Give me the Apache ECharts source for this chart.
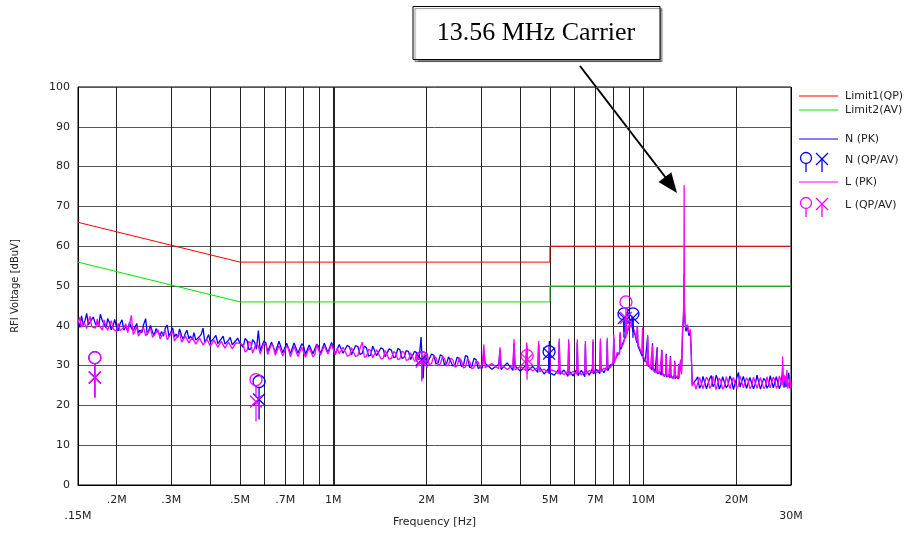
<!DOCTYPE html>
<html><head><meta charset="utf-8">
<script src="https://cdn.jsdelivr.net/npm/echarts@6/dist/echarts.min.js"></script>
<style>html,body{margin:0;padding:0;background:#fff}#chart{width:905px;height:533px}</style>
</head><body><div id="chart"></div>
<script>
// Frequency samples (MHz)
const freqMHz = [
  0.150,0.152,0.154,0.156,0.158,0.160,0.162,0.164,0.166,0.168,0.171,0.173,0.175,0.177,0.180,0.182,0.185,0.187,0.190,0.192,0.195,0.197,0.200,0.202,0.205,0.208,0.211,0.214,0.217,0.220,0.223,0.226,0.229,0.232,0.235,0.238,0.241,0.244,0.248,0.251,0.254,0.257,0.261,0.264,0.268,0.272,0.276,0.279,0.283,0.287,0.291,0.295,0.299,0.303,0.307,0.311,0.315,0.319,0.324,0.328,0.333,0.337,0.342,0.346,0.351,0.355,0.360,0.365,0.370,0.375,0.380,0.385,0.391,0.396,0.401,0.406,0.412,0.418,0.424,0.429,0.435,0.441,0.447,0.453,0.459,0.465,0.472,0.478,0.485,0.491,0.498,
  0.512,0.519,0.527,0.534,0.542,0.549,0.557,0.565,0.573,0.581,0.589,0.597,0.606,0.614,0.623,0.632,0.641,0.650,0.659,0.668,0.678,0.687,0.697,0.707,0.717,0.727,0.737,0.747,0.758,0.769,0.780,0.791,0.802,0.813,0.825,0.836,0.848,0.860,0.872,0.884,0.897,0.909,0.922,0.935,0.948,0.961,0.975,0.987,1.000,
  1.015,1.03,1.045,1.06,1.075,1.09,1.11,1.13,1.145,1.16,1.18,1.20,1.22,1.24,1.26,1.28,1.30,1.32,1.34,1.36,1.38,1.40,1.425,1.45,1.47,1.49,1.515,1.54,1.565,1.59,1.615,1.64,1.665,1.69,1.72,1.75,1.775,1.80,1.83,1.86,1.89,1.92,1.935,1.95,1.965,1.98,
  2.01,2.04,2.075,2.11,2.145,2.18,2.215,2.25,2.285,2.32,2.355,2.39,2.43,2.47,2.51,2.55,2.59,2.63,2.67,2.71,2.755,2.80,2.845,2.89,2.935,2.98,
  3.03,3.06,3.09,3.25, 3.42,3.45,3.48,3.64, 3.80,3.83,3.86,4.02, 4.18,4.21,4.24,4.40, 4.57,4.60,4.63,4.79, 4.95,4.98,5.01,5.17, 5.33,5.36,5.39,5.55, 5.72,5.75,5.78,5.94, 6.10,6.13,6.16,6.32, 6.48,6.51,6.54,6.70, 6.86,6.89,6.92,7.08, 7.25,7.28,7.31,7.47, 7.63,7.66,7.69,7.85,
  8.00,8.04,8.08,8.24, 8.39,8.43,8.47,8.63, 8.77,8.81,8.85,9.00, 9.15,9.19,9.23,9.40, 9.54,9.58,9.62,9.78, 9.92,9.96,10.00,10.16, 10.30,10.34,10.38,10.54, 10.68,10.72,10.76,10.92, 11.06,11.10,11.14,11.30, 11.45,11.49,11.53,11.70, 11.83,11.87,11.91,12.08, 12.21,12.25,12.29,12.46, 12.60,12.64,12.68,12.84, 12.98,13.02,13.06,13.20,
  13.30,13.40,13.48,13.53,13.56,13.59,13.65,13.75,13.90,14.05,14.20,14.30,14.40,
  14.6,14.8,15.0,15.2,15.4,15.6,15.8,16.0,16.2,16.4,16.6,16.8,17.0,17.2,17.4,17.6,17.8,18.05,18.3,18.55,18.8,19.05,19.3,19.55,19.8,20.05,20.3,20.55,20.8,21.05,21.3,21.55,21.8,22.1,22.4,22.7,23.0,23.3,23.6,23.9,24.2,24.5,24.8,25.1,25.4,25.7,26.0,26.3,26.6,26.9,27.2,27.5,27.8,28.1,28.2,28.3,28.5,28.7,28.9,29.1,29.3,29.5,29.75,30.0
];
// N (PK) trace, dBuV
const nPeak = [
  41.2,39.6,42.5,40.1,41.3,43.1,40.2,39.7,41.6,42.2,40.3,41.0,39.8,42.9,41.1,40.5,39.4,41.8,40.6,39.0,40.2,41.6,39.5,38.7,40.5,41.5,38.9,39.9,38.7,40.9,39.4,38.8,39.6,40.6,38.2,38.9,38.2,40.2,41.8,37.8,38.9,40.1,38.4,37.6,39.3,39.8,37.5,38.6,37.4,39.4,40.2,37.3,38.4,39.5,37.2,37.9,37.1,39.2,37.5,36.6,38.1,38.9,36.7,37.4,36.5,38.3,36.4,36.0,37.3,37.9,39.4,35.8,36.8,37.8,35.9,35.6,36.9,37.6,35.5,35.3,36.7,37.4,35.4,35.0,36.4,37.1,35.2,34.8,36.3,36.9,35.9,
  34.6,36.8,36.3,34.0,34.2,36.5,35.9,34.1,38.8,33.7,34.0,36.2,35.7,33.5,33.8,35.9,35.4,33.3,33.6,36.1,35.8,33.2,33.5,35.6,35.1,33.0,33.2,35.7,35.3,33.1,33.4,35.5,34.9,32.8,33.1,35.2,35.6,33.0,33.3,35.4,34.8,32.9,33.0,35.6,35.2,33.3,33.6,35.8,35.4,
  33.0,33.2,35.3,35.0,33.1,33.4,35.1,34.6,32.7,32.9,35.0,34.8,32.8,33.1,34.9,34.4,32.4,32.6,34.9,34.7,32.5,32.8,34.5,34.1,32.2,32.4,34.2,33.9,32.0,32.2,34.3,34.0,31.8,32.0,33.8,33.5,31.5,31.7,33.6,33.2,31.4,37.2,31.0,26.8,32.4,32.0,
  30.6,30.9,32.9,32.6,30.4,30.7,32.7,32.4,30.2,30.5,32.2,31.9,29.9,30.2,32.1,31.8,29.8,30.0,32.5,32.3,29.5,29.8,31.8,31.5,29.3,29.6,
  29.4,33.8,30.6,29.1, 30.3,34.0,29.0,30.7, 28.8,35.6,29.9,28.6, 30.1,34.9,28.7,29.8, 28.3,35.4,29.6,27.9, 29.2,36.2,28.1,27.6, 29.0,35.9,27.8,28.9, 27.3,35.7,28.6,27.4, 29.1,35.8,27.5,28.8, 27.2,35.4,28.9,27.6, 29.3,36.0,27.9,29.0, 28.0,36.1,29.4,28.2, 29.8,36.5,28.7,30.2,
  30.4,36.9,31.2,32.5, 33.4,38.0,34.1,36.0, 37.2,41.0,38.1,39.6, 40.2,42.6,39.4,37.9, 35.8,39.8,34.9,33.6, 32.4,39.2,31.8,31.0, 30.6,37.4,29.9,29.6, 28.9,35.6,29.4,28.3, 28.8,34.6,27.9,28.5, 27.6,33.9,28.2,27.3, 28.0,33.0,27.1,27.8, 26.9,32.4,27.6,26.8, 27.5,31.2,26.7,27.4, 26.6,30.4,27.2,30.8,
  28.5,38.2,41.5,45.0,53.0,44.0,40.8,38.6,39.8,37.5,38.6,33.0,25.2,
  24.8,26.4,27.2,24.3,25.1,27.3,26.9,24.2,24.6,26.8,27.5,24.7,25.3,27.6,26.6,24.1,24.9,27.2,27.0,24.4,25.2,27.4,26.4,24.0,24.5,26.9,28.3,24.6,25.0,27.3,26.8,24.3,24.7,27.0,26.5,24.2,25.3,27.6,27.4,24.1,24.6,26.8,26.2,24.3,25.0,27.5,27.1,24.4,24.8,27.2,26.7,24.2,25.1,27.8,29.5,25.6,24.5,27.3,24.6,24.9,27.0,28.2,24.3,25.4
];
// L (PK) trace, dBuV
const lPeak = [
  40.8,42.1,39.6,41.0,40.4,39.3,41.2,42.4,39.8,40.1,39.4,41.7,40.2,40.3,38.9,41.5,39.7,38.9,40.3,41.3,39.2,39.5,38.6,40.6,38.8,38.4,39.6,40.5,38.3,38.6,42.6,37.8,38.6,39.9,37.4,37.6,38.9,39.6,37.5,37.2,38.6,39.4,37.1,36.9,38.3,39.0,36.7,36.6,38.2,38.8,36.5,36.4,37.9,38.6,36.2,36.1,37.6,38.3,35.9,35.8,37.4,37.9,35.7,35.6,37.1,37.6,35.4,35.3,36.9,37.3,35.2,35.0,36.6,37.0,34.9,34.7,36.4,36.8,34.6,34.5,36.1,36.5,34.4,34.3,35.9,36.3,34.2,34.1,35.7,36.2,35.6,
  35.2,33.4,33.8,36.1,35.6,33.1,33.5,35.8,34.9,32.9,33.2,35.7,35.3,32.8,33.0,35.4,34.8,32.6,32.9,35.0,34.6,32.4,32.7,34.9,34.3,32.2,32.5,34.8,34.5,32.3,32.6,34.6,34.1,32.1,32.4,34.5,34.0,32.2,32.8,35.3,35.1,32.6,33.0,35.0,34.7,32.9,33.4,35.3,34.9,
  32.7,34.4,33.0,32.8,34.6,34.2,32.4,32.6,34.5,34.0,32.3,32.5,34.3,35.9,32.1,32.3,34.1,33.8,31.9,32.1,34.0,33.6,31.7,31.9,33.8,33.5,31.6,31.8,33.5,33.2,31.5,31.7,33.6,33.4,31.3,31.5,33.2,33.0,31.1,31.2,32.9,33.6,32.2,31.0,32.9,32.8,
  32.1,30.2,30.5,32.4,32.0,30.1,30.4,32.3,31.8,29.9,30.2,31.8,31.5,29.6,29.9,31.9,31.3,29.4,29.6,31.6,31.0,29.2,29.5,31.2,30.9,29.3,
  30.4,35.3,29.5,30.5, 29.2,34.6,30.3,29.0, 30.1,36.6,28.9,29.8, 28.8,35.8,29.7,28.7, 29.5,36.2,28.5,29.1, 28.2,35.0,29.0,28.7, 27.9,36.8,28.8,27.7, 28.7,36.6,27.6,28.6, 27.8,36.6,28.7,27.7, 28.6,36.2,27.8,28.8, 28.1,36.6,28.9,28.2, 29.2,36.8,28.4,29.4, 28.9,37.0,29.6,29.5,
  31.0,37.8,30.6,33.3, 32.8,38.5,34.7,35.4, 37.8,42.0,37.6,40.3, 39.6,42.2,40.1,38.4, 36.3,40.0,35.4,34.1, 33.0,39.6,32.3,31.5, 30.1,37.7,30.5,29.2, 29.5,35.2,28.8,28.9, 28.2,34.3,28.6,27.9, 28.3,34.0,27.7,28.0, 27.4,32.6,27.8,27.2, 27.6,32.1,27.0,27.5, 26.9,31.0,27.3,26.8, 27.1,30.2,26.7,31.5,
  27.8,39.0,42.3,47.5,75.3,46.0,41.2,39.4,40.3,38.2,39.1,32.5,24.8,
  25.9,24.1,24.4,27.0,26.6,24.2,24.7,27.1,26.4,24.3,24.9,27.3,26.8,24.0,24.5,26.9,26.2,24.1,24.8,27.2,26.9,24.2,24.6,27.0,26.5,24.3,25.0,27.4,27.0,24.4,24.7,26.9,26.3,24.2,24.9,27.1,26.8,24.3,24.5,27.0,26.6,24.2,24.8,27.2,26.9,24.4,24.6,27.1,26.4,24.3,24.9,27.4,26.9,25.3,32.3,24.8,27.6,26.5,25.0,28.9,24.2,24.6,26.8,24.2
];
// Limits
const limitFreq = [0.15, 0.5, 5, 5, 30];
const limit1QP = [66, 56, 56, 60, 60];
const limit2AV = [56, 46, 46, 50, 50];
// Final measurement markers
const nMarkFreq = [0.170, 0.576, 1.93, 4.97, 8.67, 9.27];
const nQP = [32.0, 26.0, 32.0, 33.5, 43.0, 43.0];
const nAV = [27.0, 21.5, 31.5, 33.0, 42.0, 42.0];
const lMarkFreq = [0.170, 0.563, 1.93, 4.22, 8.80];
const lQP = [32.0, 26.5, 32.0, 32.5, 46.0];
const lAV = [27.0, 21.0, 31.0, 31.5, 42.0];
// Axis ticks
const gridFreqs = [0.2,0.3,0.4,0.5,0.6,0.7,0.8,0.9,1,2,3,4,5,6,7,8,9,10,20];
const tickFreqs = [0.2,0.3,0.5,0.7,1,2,3,5,7,10,20];
const tickLabels = ['.2M','.3M','.5M','.7M','1M','2M','3M','5M','7M','10M','20M'];
const edgeFreqs = [0.15, 30];
const edgeLabels = ['.15M','30M'];

const FONT = 'DejaVu Sans';
const BLUE = '#0000ff', MAG = '#ff00ff';

const pairs = (xs, ys) => xs.map((x, i) => [x, ys[i]]);

const gridLineData = gridFreqs.map(f => {
  const ti = tickFreqs.indexOf(f);
  return {
    xAxis: f,
    lineStyle: { width: f === 1 ? 2 : 1, color: '#222', type: 'solid' },
    label: ti >= 0 ? { show: true, formatter: tickLabels[ti] } : { show: false }
  };
}).concat(edgeFreqs.map((f, i) => ({
  xAxis: f,
  lineStyle: { width: 1, color: '#000', type: 'solid' },
  label: { show: true, formatter: edgeLabels[i], distance: 26 }
})));

function markerSeries(name, xs, ys, color, isCircle) {
  return {
    name, type: 'custom', z: 12, silent: true,
    data: pairs(xs, ys),
    renderItem: function (params, api) {
      const p = api.coord([api.value(0), api.value(1)]);
      const st = { stroke: color, fill: 'none', lineWidth: 1.3 };
      const children = isCircle ? [
        { type: 'circle', shape: { cx: p[0], cy: p[1], r: 6 }, style: st },
        { type: 'line', shape: { x1: p[0], y1: p[1] + 6, x2: p[0], y2: p[1] + 18 }, style: st }
      ] : [
        { type: 'line', shape: { x1: p[0] - 6, y1: p[1] - 6, x2: p[0] + 6, y2: p[1] + 6 }, style: st },
        { type: 'line', shape: { x1: p[0] + 6, y1: p[1] - 6, x2: p[0] - 6, y2: p[1] + 6 }, style: st },
        { type: 'line', shape: { x1: p[0], y1: p[1], x2: p[0], y2: p[1] + 20 }, style: st }
      ];
      return { type: 'group', children };
    }
  };
}

const chart = echarts.init(document.getElementById('chart'), null, { renderer: 'canvas' });
chart.setOption({
  animation: false,
  backgroundColor: '#fff',
  grid: { left: 78, right: 114, top: 87, bottom: 47, show: true, borderColor: '#000', borderWidth: 1 },
  xAxis: {
    type: 'log', logBase: 10, min: 0.15, max: 30,
    name: 'Frequency [Hz]', nameLocation: 'middle', nameGap: 32,
    nameTextStyle: { fontFamily: FONT, fontSize: 11, color: '#222' },
    axisLine: { show: true, lineStyle: { color: '#000', width: 1 } },
    axisTick: { show: false }, axisLabel: { show: false }, splitLine: { show: false }, minorSplitLine: { show: false }
  },
  yAxis: {
    type: 'value', min: 0, max: 100, interval: 10,
    name: 'RFI Voltage [dBuV]', nameLocation: 'middle', nameGap: 58,
    nameTextStyle: { fontFamily: FONT, fontSize: 10, color: '#222' },
    axisLine: { show: true, lineStyle: { color: '#000', width: 1 } },
    axisTick: { show: false },
    axisLabel: { fontFamily: FONT, fontSize: 11, color: '#222', margin: 8 },
    splitLine: { show: true, lineStyle: { color: '#555', width: 1 } }
  },
  series: [
    {
      name: 'grid', type: 'line', data: [], z: 1, silent: true,
      markLine: {
        silent: true, z: 1, symbol: ['none', 'none'], animation: false,
        label: { position: 'start', distance: 10, fontFamily: FONT, fontSize: 11, color: '#222' },
        emphasis: { disabled: true },
        data: gridLineData
      }
    },
    { name: 'Limit1(QP)', type: 'line', z: 8, data: pairs(limitFreq, limit1QP), showSymbol: false, symbol: 'none',
      lineStyle: { color: '#ff0000', width: 1 }, silent: true },
    { name: 'Limit2(AV)', type: 'line', z: 8, data: pairs(limitFreq, limit2AV), showSymbol: false, symbol: 'none',
      lineStyle: { color: '#00e600', width: 1 }, silent: true },
    { name: 'N (PK)', type: 'line', z: 10, data: pairs(freqMHz, nPeak), showSymbol: false, symbol: 'none',
      lineStyle: { color: BLUE, width: 1.3 }, silent: true },
    { name: 'L (PK)', type: 'line', z: 11, data: pairs(freqMHz, lPeak), showSymbol: false, symbol: 'none',
      lineStyle: { color: MAG, width: 1.3 }, silent: true },
    markerSeries('N (QP)', nMarkFreq, nQP, BLUE, true),
    markerSeries('N (AV)', nMarkFreq, nAV, BLUE, false),
    markerSeries('L (QP)', lMarkFreq, lQP, MAG, true),
    markerSeries('L (AV)', lMarkFreq, lAV, MAG, false)
  ],
  graphic: [
    // legend
    { type: 'line', shape: { x1: 799, y1: 96, x2: 838, y2: 96 }, style: { stroke: '#ff0000', lineWidth: 1 } },
    { type: 'text', x: 845, y: 96, style: { text: 'Limit1(QP)', fontFamily: FONT, fontSize: 11, fill: '#222', verticalAlign: 'middle' } },
    { type: 'line', shape: { x1: 799, y1: 110, x2: 838, y2: 110 }, style: { stroke: '#00e600', lineWidth: 1 } },
    { type: 'text', x: 845, y: 110, style: { text: 'Limit2(AV)', fontFamily: FONT, fontSize: 11, fill: '#222', verticalAlign: 'middle' } },
    { type: 'line', shape: { x1: 799, y1: 139, x2: 838, y2: 139 }, style: { stroke: BLUE, lineWidth: 1 } },
    { type: 'text', x: 845, y: 139, style: { text: 'N (PK)', fontFamily: FONT, fontSize: 11, fill: '#222', verticalAlign: 'middle' } },
    { type: 'circle', shape: { cx: 806, cy: 158, r: 5.5 }, style: { stroke: BLUE, fill: 'none', lineWidth: 1.3 } },
    { type: 'line', shape: { x1: 806, y1: 163.5, x2: 806, y2: 172 }, style: { stroke: BLUE, lineWidth: 1.3 } },
    { type: 'line', shape: { x1: 816, y1: 153, x2: 828, y2: 165 }, style: { stroke: BLUE, lineWidth: 1.3 } },
    { type: 'line', shape: { x1: 828, y1: 153, x2: 816, y2: 165 }, style: { stroke: BLUE, lineWidth: 1.3 } },
    { type: 'line', shape: { x1: 822, y1: 159, x2: 822, y2: 172 }, style: { stroke: BLUE, lineWidth: 1.3 } },
    { type: 'text', x: 845, y: 160, style: { text: 'N (QP/AV)', fontFamily: FONT, fontSize: 11, fill: '#222', verticalAlign: 'middle' } },
    { type: 'line', shape: { x1: 799, y1: 182, x2: 838, y2: 182 }, style: { stroke: MAG, lineWidth: 1 } },
    { type: 'text', x: 845, y: 182, style: { text: 'L (PK)', fontFamily: FONT, fontSize: 11, fill: '#222', verticalAlign: 'middle' } },
    { type: 'circle', shape: { cx: 806, cy: 203, r: 5.5 }, style: { stroke: MAG, fill: 'none', lineWidth: 1.3 } },
    { type: 'line', shape: { x1: 806, y1: 208.5, x2: 806, y2: 217 }, style: { stroke: MAG, lineWidth: 1.3 } },
    { type: 'line', shape: { x1: 816, y1: 198, x2: 828, y2: 210 }, style: { stroke: MAG, lineWidth: 1.3 } },
    { type: 'line', shape: { x1: 828, y1: 198, x2: 816, y2: 210 }, style: { stroke: MAG, lineWidth: 1.3 } },
    { type: 'line', shape: { x1: 822, y1: 204, x2: 822, y2: 217 }, style: { stroke: MAG, lineWidth: 1.3 } },
    { type: 'text', x: 845, y: 205, style: { text: 'L (QP/AV)', fontFamily: FONT, fontSize: 11, fill: '#222', verticalAlign: 'middle' } },
    // annotation
    { type: 'rect', shape: { x: 413, y: 6.5, width: 247, height: 53 },
      style: { fill: '#fff', stroke: '#000', lineWidth: 1, shadowColor: 'rgba(0,0,0,0.45)', shadowOffsetX: 2, shadowOffsetY: 2, shadowBlur: 1 } },
    { type: 'text', x: 536, y: 33, style: { text: '13.56 MHz Carrier', fontFamily: 'Liberation Serif', fontSize: 26, fill: '#000', align: 'center', verticalAlign: 'middle' } },
    { type: 'line', shape: { x1: 580, y1: 66, x2: 666, y2: 178 }, style: { stroke: '#000', lineWidth: 2 } },
    { type: 'polygon', shape: { points: [[677, 193], [658.5, 182], [671.3, 172.2]] }, style: { fill: '#000' } }
  ]
});
</script></body></html>
